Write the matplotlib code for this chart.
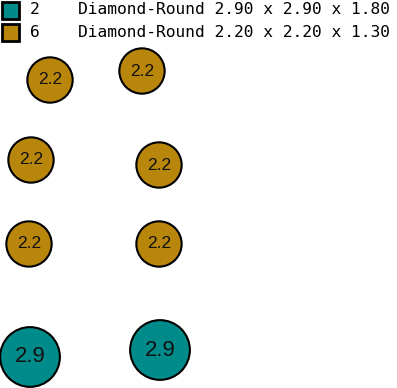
import matplotlib
matplotlib.use("Agg")
import matplotlib.pyplot as plt
from matplotlib.patches import Circle, Rectangle

# Legend data
legend_counts = ["2", "6"]
legend_labels = ["Diamond-Round 2.90 x 2.90 x 1.80",
                 "Diamond-Round 2.20 x 2.20 x 1.30"]
legend_colors = ["#008B8B", "#B8860B"]

# Stones: size (mm), position in layout (px)
stone_sizes = [2.2, 2.2, 2.2, 2.2, 2.2, 2.2, 2.9, 2.9]
stone_x = [50, 142, 31, 159, 29, 159, 30, 160]
stone_y = [80, 71, 160, 165, 244, 244, 357, 350]
stone_colors = ["#B8860B"] * 6 + ["#008B8B"] * 2
label_sizes = {2.2: 12.5, 2.9: 16}

W, H = 397, 388
fig = plt.figure(figsize=(W / 100, H / 100), dpi=100)
ax = fig.add_axes([0, 0, 1, 1])
ax.set_xlim(0, W)
ax.set_ylim(H, 0)
ax.axis("off")

scale = 10.3
for s, x, y, c in zip(stone_sizes, stone_x, stone_y, stone_colors):
    ax.add_patch(Circle((x, y), s * scale, facecolor=c, edgecolor="black", lw=1.5))
    ax.text(x, y, f"{s:.1f}", ha="center", va="center",
            fontsize=label_sizes[s], family="Liberation Sans", color="#111111")

for i, (n, lab, c) in enumerate(zip(legend_counts, legend_labels, legend_colors)):
    y0 = 1.5 + i * 22.5
    ax.add_patch(Rectangle((1.5, y0), 17, 17, facecolor=c, edgecolor="black", lw=2))
    yc = y0 + 8.5
    ax.text(30, yc, n, ha="left", va="center", fontsize=11.7,
            family="DejaVu Sans Mono", color="black")
    ax.text(78, yc, lab, ha="left", va="center", fontsize=11.7,
            family="DejaVu Sans Mono", color="black")

fig.savefig("out.png", dpi=100)
